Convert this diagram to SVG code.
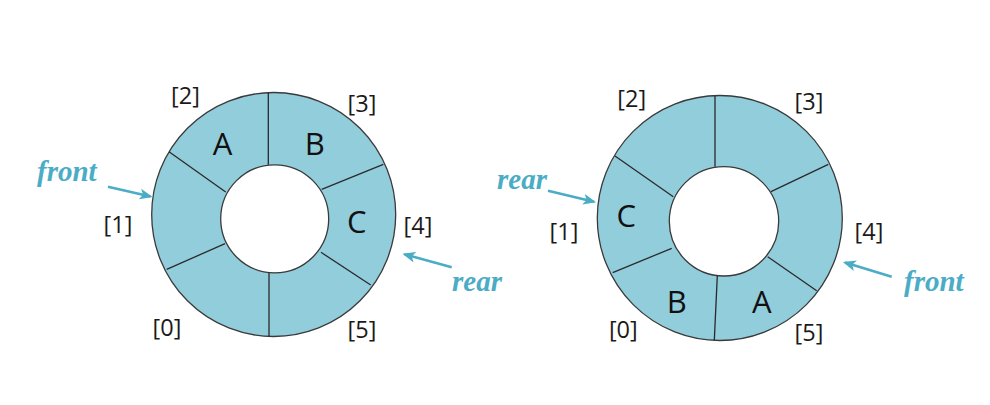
<svg xmlns="http://www.w3.org/2000/svg" width="990" height="405" viewBox="0 0 990 405">
<defs>
<style>
.ring{fill:#92CDDC;stroke:#3a3a3a;stroke-width:1.3}
.hole{fill:#ffffff;stroke:#3a3a3a;stroke-width:1.3}
.div{stroke:#2a2a2a;stroke-width:1.3;fill:none}
.idx{font-family:"Open Sans","DejaVu Sans",sans-serif;font-size:23.5px;fill:#1a1a1a;text-anchor:middle}
.val{font-family:"Open Sans","DejaVu Sans",sans-serif;font-size:31px;fill:#111111;text-anchor:middle}
.ptr{font-family:"Liberation Serif","Times New Roman",serif;font-style:italic;font-weight:bold;font-size:29px;fill:#4BACC6}
.arrow{stroke:#4BACC6;stroke-width:2.6;fill:none;marker-end:url(#ah)}
</style>
<marker id="ah" viewBox="0 0 12 10" refX="10" refY="5" markerWidth="5" markerHeight="5" orient="auto" markerUnits="strokeWidth">
<path d="M0,0 L12,5 L0,10 L3,5 Z" fill="#4BACC6"/>
</marker>
</defs>
<rect width="990" height="405" fill="#ffffff"/>

<g id="queue-left">
<circle class="ring" cx="273.7" cy="214.5" r="122"/>
<circle class="hole" cx="274.7" cy="218.8" r="54"/>
<line class="div" x1="268.3" y1="92.5" x2="268.3" y2="164.8"/>
<line class="div" x1="169" y1="151.7" x2="225.7" y2="192"/>
<line class="div" x1="321.7" y1="189.3" x2="383.3" y2="164.3"/>
<line class="div" x1="321" y1="252.3" x2="370.7" y2="285"/>
<line class="div" x1="225" y1="243.7" x2="166.7" y2="269.3"/>
<line class="div" x1="269" y1="272.8" x2="269" y2="336.5"/>
</g>
<g id="left-cells">
<g id="left-cell-0"><text class="idx" x="167" y="336">[0]</text></g>
<g id="left-cell-1"><text class="idx" x="118" y="233">[1]</text></g>
<g id="left-cell-2"><text class="idx" x="185.5" y="103.5">[2]</text><text class="val" x="222.5" y="155">A</text></g>
<g id="left-cell-3"><text class="idx" x="362" y="111.5">[3]</text><text class="val" x="314.7" y="155">B</text></g>
<g id="left-cell-4"><text class="idx" x="418" y="234">[4]</text><text class="val" x="356.7" y="233">C</text></g>
<g id="left-cell-5"><text class="idx" x="362" y="338">[5]</text></g>
</g>
<g id="left-pointers">
<text class="ptr" x="37" y="181">front</text>
<text class="ptr" x="452" y="291">rear</text>
</g>

<g id="queue-right">
<circle class="ring" cx="719.8" cy="218" r="122.5"/>
<circle class="hole" cx="724" cy="221.3" r="54.7"/>
<line class="div" x1="715" y1="95.8" x2="715" y2="166.8"/>
<line class="div" x1="615" y1="156" x2="673.3" y2="196.7"/>
<line class="div" x1="771" y1="191.7" x2="828.3" y2="164.3"/>
<line class="div" x1="767.7" y1="256.7" x2="816.7" y2="290.7"/>
<line class="div" x1="671.7" y1="248.3" x2="612.7" y2="272.7"/>
<line class="div" x1="717.3" y1="276" x2="714.3" y2="340.4"/>
</g>
<g id="right-cells">
<g id="right-cell-0"><text class="idx" x="623.3" y="338">[0]</text><text class="val" x="676.7" y="313">B</text></g>
<g id="right-cell-1"><text class="idx" x="564" y="240">[1]</text><text class="val" x="626.3" y="226.5">C</text></g>
<g id="right-cell-2"><text class="idx" x="631.7" y="107">[2]</text></g>
<g id="right-cell-3"><text class="idx" x="809" y="110">[3]</text></g>
<g id="right-cell-4"><text class="idx" x="869" y="240">[4]</text></g>
<g id="right-cell-5"><text class="idx" x="809" y="341">[5]</text><text class="val" x="761.7" y="313">A</text></g>
</g>
<g id="right-pointers">
<text class="ptr" x="497" y="189">rear</text>
<text class="ptr" x="904" y="291">front</text>
</g>

<g id="connectors">
<line class="arrow" x1="108" y1="186.7" x2="150.5" y2="196.5"/>
<line class="arrow" x1="451.7" y1="267.3" x2="404.5" y2="254.3"/>
<line class="arrow" x1="548" y1="190.7" x2="594" y2="201.7"/>
<line class="arrow" x1="891.7" y1="276.7" x2="845" y2="262.6"/>
</g>
</svg>
